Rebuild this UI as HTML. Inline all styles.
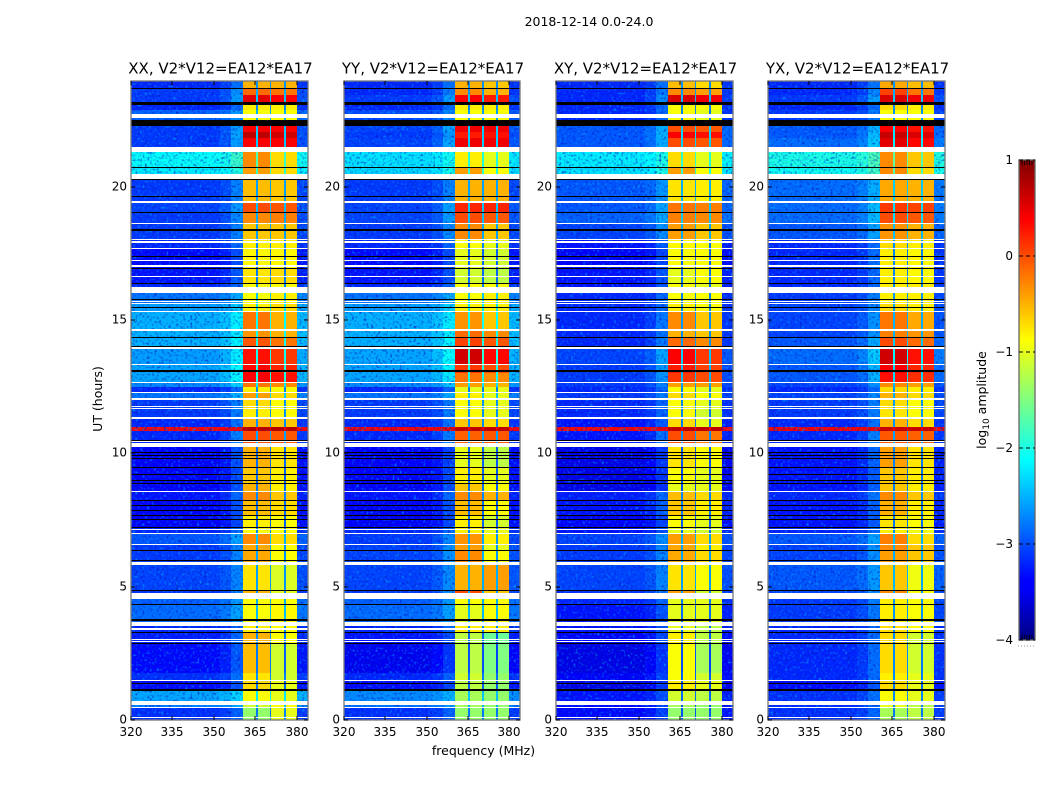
<!DOCTYPE html>
<html>
<head>
<meta charset="utf-8">
<title>2018-12-14 0.0-24.0</title>
<style>
html,body{margin:0;padding:0;background:#fff;}
svg{display:block;font-family:"DejaVu Sans","Liberation Sans",sans-serif;}
</style>
</head>
<body>
<svg id="chart" xmlns="http://www.w3.org/2000/svg" width="1050" height="800" viewBox="0 0 1050 800">
  <defs>
    <linearGradient id="jetGrad" x1="0" y1="1" x2="0" y2="0">
      <stop offset="0" stop-color="#000080"/>
      <stop offset="0.11" stop-color="#0000ff"/>
      <stop offset="0.125" stop-color="#0000ff"/>
      <stop offset="0.375" stop-color="#00ffff"/>
      <stop offset="0.5" stop-color="#80ff80"/>
      <stop offset="0.625" stop-color="#ffff00"/>
      <stop offset="0.875" stop-color="#ff0000"/>
      <stop offset="1" stop-color="#800000"/>
    </linearGradient>
    <filter id="speckleDark" x="0" y="0" width="100%" height="100%" color-interpolation-filters="sRGB">
      <feTurbulence type="fractalNoise" baseFrequency="0.42" numOctaves="1" seed="7"/>
      <feColorMatrix type="matrix" values="0 0 0 0 0  0 0 0 0 0.1  0 0 0 0 0.75  2.4 2.4 0 0 -2.4"/>
    </filter>
    <filter id="speckleLight" x="0" y="0" width="100%" height="100%" color-interpolation-filters="sRGB">
      <feTurbulence type="fractalNoise" baseFrequency="0.42" numOctaves="1" seed="21"/>
      <feColorMatrix type="matrix" values="0 0 0 0 0  0 0 0 0 0.65  0 0 0 0 1  2.2 2.2 0 0 -2.3"/>
    </filter>
  </defs>
  <text x="589" y="26" font-size="12.5" text-anchor="middle">2018-12-14 0.0-24.0</text>
  <g id="panels"></g>
  <text font-size="12.5" text-anchor="middle" transform="translate(102,399) rotate(-90)">UT (hours)</text>
  <text x="483.5" y="755" font-size="12.5" text-anchor="middle">frequency (MHz)</text>
  <g id="colorbar">
    <rect x="1019" y="160" width="16" height="480" fill="url(#jetGrad)"/>
    <g stroke="#000" stroke-width="0.8">
      <line x1="1022" x2="1022" y1="160" y2="165"/><line x1="1024.5" x2="1024.5" y1="160" y2="165"/><line x1="1027" x2="1027" y1="160" y2="165"/><line x1="1029.5" x2="1029.5" y1="160" y2="165"/><line x1="1032" x2="1032" y1="160" y2="165"/>
      <line x1="1022" x2="1022" y1="635" y2="640"/><line x1="1024.5" x2="1024.5" y1="635" y2="640"/><line x1="1027" x2="1027" y1="635" y2="640"/><line x1="1029.5" x2="1029.5" y1="635" y2="640"/><line x1="1032" x2="1032" y1="635" y2="640"/>
    </g>
    <rect x="1019" y="160" width="16" height="480" fill="none" stroke="#666" stroke-width="1.3"/>
    <text font-size="12.5" text-anchor="middle" transform="translate(986,400) rotate(-90)">log<tspan font-size="9" dy="3">10</tspan><tspan dy="-3"> amplitude</tspan></text>
    <line x1="1018" y1="646" x2="1035" y2="646" stroke="#999" stroke-width="1" stroke-dasharray="1 2"/>
  </g>
</svg>
<script>
// Axis ticks
const xTickValues = [320, 335, 350, 365, 380];
const yTickValues = [0, 5, 10, 15, 20];
const colorbarTicks = [1, 0, -1, -2, -3, -4];
const panelTitles = ["XX, V2*V12=EA12*EA17", "YY, V2*V12=EA12*EA17", "XY, V2*V12=EA12*EA17", "YX, V2*V12=EA12*EA17"];

// Frequency channels (MHz) and how far each sits between background (0) and band level (1)
const freqEdges = [320, 352, 356, 360.5, 365.1, 365.8, 370.15, 370.8, 375.2, 375.9, 380, 384];
const freqMix = [0, 0.04, 0.14, 1, 0.2, 1, 0.2, 1, 0.2, 1, 0.03];
const freqBand = ["lo", "lo", "lo", "lo", "lo", "lo", "lo", "hi", "hi", "hi", "hi"];

// Time row edges (UT hours)
const utEdges = [0,0.45,0.71,1.09,1.5,1.76,2.85,3.27,3.68,4.32,4.54,4.88,5.82,6.35,6.57,6.98,7.25,7.7,8.26,8.6,8.9,9.5,10.25,10.85,11,11.3,11.72,12.02,12.32,12.5,12.65,13.03,13.33,13.93,14.34,14.61,15.32,15.66,16,16.41,16.94,17.72,18.02,18.59,19.04,19.41,20.24,20.69,21.29,21.48,21.85,22.04,22.27,22.87,23.09,23.43,23.69,24];

// log10 amplitude per time row: off-band background, first two sub-bands, last two sub-bands
const bgXX = [-3.15,-2.75,-2.55,-3.35,-3.15,-3.35,-3.25,-3.2,-2.85,-2.9,-3.15,-3.05,-3.1,-3.1,-2.95,-3.2,-3.4,-3.4,-3.3,-3.4,-3.4,-3.4,-3.2,0.35,-3.2,-3.1,-3.1,-2.8,-3.2,-2.7,-2.55,-2.55,-2.6,-2.5,-2.5,-2.5,-2.6,-2.8,-3.2,-3.3,-3.35,-3.2,-3.1,-3.1,-3.05,-3.1,-2.2,-2.1,-3.1,-3.1,-3.1,-3.1,-2.9,-3.2,-3.1,-3.1,-3.2];
const loXX = [-1.4,-1.1,-0.9,-0.7,-0.75,-0.55,-0.5,-0.8,-0.9,-0.9,-0.5,-0.75,-0.45,-0.45,-0.3,-0.9,-0.8,-0.55,-0.3,-0.5,-0.6,-0.5,0,0.75,-0.5,-0.8,-0.7,-0.4,-0.8,-0.2,0.4,0.35,0.3,-0.05,-0.35,-0.2,-0.8,-0.9,-0.9,-0.75,-0.85,-0.8,-0.6,-0.3,0,-0.55,-0.4,-0.3,0.1,0.4,0.7,0.4,-0.9,-0.8,0.5,-0.15,-0.5];
const hiXX = [-1,-0.9,-1,-1,-1.1,-1.1,-0.9,-0.9,-0.85,-0.9,-1,-1.05,-0.9,-0.9,-0.7,-0.9,-0.9,-0.7,-0.6,-0.8,-0.8,-0.75,-0.05,0.75,-0.6,-0.9,-0.9,-0.7,-0.9,-0.3,0.3,0.2,0.1,-0.2,-0.5,-0.5,-0.7,-0.8,-0.9,-0.7,-0.85,-0.8,-0.6,-0.25,-0.05,-0.6,-0.7,-0.7,0.1,0.4,0.6,0.4,-0.9,-0.8,0.4,-0.2,-0.5];
const bgYY = [-3.15,-2.8,-2.7,-3.35,-3.2,-3.45,-3.3,-3.2,-2.85,-2.9,-3.1,-3.05,-3.05,-3.05,-3.1,-3.2,-3.4,-3.4,-3.3,-3.4,-3.4,-3.4,-3.2,0.4,-3.2,-3.1,-3.1,-2.8,-3.2,-2.7,-2.55,-2.55,-2.55,-2.5,-2.5,-2.5,-2.6,-2.8,-3.2,-3.3,-3.35,-3.2,-3.1,-3.05,-3.05,-3.1,-2.3,-2.25,-3.1,-3.05,-3.1,-3.05,-3,-3.2,-3.1,-3.2,-3.2];
const loYY = [-1.4,-1.3,-1.3,-1.2,-1.1,-1.2,-1.2,-0.8,-1,-0.9,0,-0.5,-0.3,-0.4,-0.35,-0.8,-0.8,-0.55,-0.3,-0.6,-0.8,-1,-0.1,0.7,-0.6,-0.9,-0.9,-0.8,-1,-0.4,-0.2,0.1,0.6,0.05,-0.15,-0.35,-0.8,-0.9,-0.9,-1.1,-1,-0.9,-0.3,0,0.2,-0.5,-0.4,-0.8,0.2,0.45,0.25,0.45,-0.9,-0.8,0.4,-0.3,-0.5];
const hiYY = [-1.4,-1.4,-1.4,-1.4,-1.4,-1.5,-1.6,-0.8,-0.9,-0.9,-0.6,-0.4,-0.9,-1,-0.8,-1,-1.1,-0.9,-0.5,-0.9,-1,-1.2,-0.05,0.7,-0.7,-1,-1,-1,-1,-0.5,-0.3,0,0.35,-0.05,-0.3,-0.6,-0.8,-0.8,-0.9,-1.2,-1.1,-1,-0.6,-0.05,0.2,-0.5,-0.9,-1,0.2,0.45,0.3,0.45,-0.9,-0.8,0.25,-0.5,-0.6];
const bgXY = [-3.35,-3.35,-3.3,-3.5,-3.4,-3.5,-3.4,-3.3,-3.3,-3.2,-3.15,-3.05,-3.1,-3.1,-3.05,-3.3,-3.4,-3.3,-3.25,-3.5,-3.5,-3.5,-3.3,0.35,-3.3,-3.2,-3.2,-3.1,-3.2,-3.1,-3.1,-3.1,-3.05,-3.2,-3.2,-3.2,-3.2,-3.2,-3.3,-3.3,-3.4,-3.3,-3.05,-2.9,-2.95,-2.95,-2.25,-2.2,-2.95,-2.95,-2.95,-2.95,-3.2,-3.2,-3.2,-3.2,-3.2];
const loXY = [-1.4,-1.3,-1.1,-0.8,-0.9,-0.9,-0.8,-1,-1,-1,-0.4,-0.75,-0.45,-0.45,-0.4,-1,-0.9,-0.6,-0.55,-1,-0.9,-0.75,0,0.7,-0.7,-0.9,-0.9,-0.7,-0.9,-0.4,0.1,0.25,0.4,-0.15,-0.5,-0.3,-0.8,-0.9,-0.9,-1,-0.9,-0.85,-0.4,-0.25,-0.2,-0.75,-0.4,-0.7,-0.1,0,0.4,0,-0.9,-0.9,0.55,-0.3,-0.55];
const hiXY = [-1.4,-1.4,-1.2,-1,-1.1,-1.3,-1.2,-1.2,-1,-1,-1.1,-0.9,-0.7,-0.8,-0.7,-1.1,-1,-0.8,-0.7,-1,-1,-0.9,-0.2,0.7,-1,-1.1,-1,-0.9,-1,-0.4,0,0.05,0.1,-0.3,-0.6,-0.6,-0.9,-0.9,-1,-0.9,-0.9,-0.9,-0.6,-0.3,-0.25,-0.8,-0.9,-1,-0.15,-0.05,0.3,-0.05,-1,-0.9,0.45,-0.4,-0.7];
const bgYX = [-3.15,-3.15,-3.15,-3.35,-3.2,-3.2,-3.2,-3.2,-3.1,-3.1,-3.05,-2.95,-3.05,-3.05,-2.95,-3.2,-3.3,-3.3,-3.2,-3.3,-3.3,-3.3,-3.2,0.4,-3.2,-3.1,-3.1,-3.05,-3.2,-3.05,-2.95,-2.95,-2.85,-2.95,-3.05,-3.05,-3.05,-3.1,-3.2,-3.2,-3.2,-3.2,-2.95,-2.85,-2.85,-2.85,-2.05,-2,-2.95,-2.85,-2.95,-2.95,-3.1,-3.2,-3.1,-3.2,-3.2];
const loYX = [-1.3,-1,-0.9,-0.7,-0.8,-0.7,-0.7,-0.7,-0.8,-0.8,-0.3,-0.6,-0.4,-0.3,-0.25,-0.8,-0.75,-0.5,-0.3,-0.6,-0.6,-0.4,-0.05,0.65,-0.5,-0.75,-0.7,-0.5,-0.7,-0.3,0.3,0.4,0.6,0,-0.25,-0.2,-0.7,-0.8,-0.8,-0.8,-0.8,-0.7,-0.35,0,0.1,-0.45,-0.3,-0.3,0.05,0.5,0.65,0.4,-0.9,-0.7,0.55,0.05,-0.45];
const hiYX = [-1.2,-1.2,-1,-1,-1,-1.1,-1.1,-0.9,-0.9,-0.9,-0.9,-0.95,-0.6,-0.6,-0.7,-0.95,-0.9,-0.8,-0.6,-0.8,-0.8,-0.75,-0.1,0.65,-0.7,-0.9,-0.9,-0.7,-0.8,-0.4,0.15,0.2,0.3,-0.15,-0.35,-0.45,-0.8,-0.8,-0.8,-0.85,-0.85,-0.8,-0.5,-0.05,0.05,-0.5,-0.7,-0.6,0.05,0.35,0.55,0.3,-0.9,-0.8,0.45,-0.2,-0.55];
const panelSeries = [[bgXX, loXX, hiXX], [bgYY, loYY, hiYY], [bgXY, loXY, hiXY], [bgYX, loYX, hiYX]];

// Flagged time intervals (UT hours): blank rows, and rows of near-zero amplitude
const blankStart = [0.08,0.45,0.56,1.46,2.93,3,3.38,3.53,4.54,5.82,6.57,6.98,7.13,8.56,10.25,10.44,11.3,11.68,11.75,12.02,12.28,12.65,13.33,13.93,14.61,15.32,15.62,15.7,16,16.6,17.01,17.2,17.69,17.91,18.02,18.59,19.41,20.28,21.29,22.57];
const blankEnd = [0.11,0.49,0.71,1.5,2.97,3.04,3.45,3.68,4.77,5.93,6.61,7.02,7.17,8.6,10.4,10.48,11.38,11.72,11.79,12.09,12.32,12.69,13.37,14.01,14.65,15.36,15.66,15.73,16.26,16.64,17.05,17.24,17.72,17.95,18.06,18.63,19.45,20.47,21.48,22.72];
const darkStart = [1.09,1.35,2.85,3.27,3.72,4.32,4.84,5.97,6.35,7.21,7.51,7.66,7.85,8.04,8.22,8.86,8.97,9.2,9.46,9.8,9.91,10.03,10.48,13.07,14.01,14.34,15.47,15.77,16.37,16.94,17.35,18.36,19,19.6,20.24,20.47,20.69,22.27,23.08,23.68];
const darkEnd = [1.16,1.39,2.89,3.3,3.79,4.36,4.88,6.01,6.38,7.25,7.55,7.7,7.89,8.07,8.26,8.9,9.01,9.24,9.5,9.84,9.95,10.06,10.51,13.14,14.04,14.38,15.51,15.81,16.41,16.97,17.39,18.4,19.04,19.64,20.28,20.5,20.73,22.51,23.17,23.71];

const SVGNS = "http://www.w3.org/2000/svg";
const panelLefts = [131, 344, 556, 768];
const panelRights = [308, 520, 733, 945];
const plotTop = 81, plotBottom = 720;
const utMax = 23.97, freqMin = 320, freqMax = 384;
const cbTop = 160, cbBottom = 640, cbLeft = 1019, cbRight = 1035, cbMin = -4, cbMax = 1;

function yScale(ut) { return Math.max(plotTop, Math.round(plotBottom - (ut / utMax) * (plotBottom - plotTop))); }
function xScale(f, i) { return Math.round(panelLefts[i] + (f - freqMin) / (freqMax - freqMin) * (panelRights[i] - panelLefts[i])); }
function cbScale(v) { return cbBottom - (v - cbMin) / (cbMax - cbMin) * (cbBottom - cbTop); }

function jet(v) {
  const t = Math.max(0, Math.min(1, (v - cbMin) / (cbMax - cbMin)));
  const c = function (x) { return Math.round(255 * Math.max(0, Math.min(1, x))); };
  const r = 1.5 - Math.abs(4 * t - 3);
  const g = 1.5 - Math.abs(4 * t - 2);
  const b = 1.5 - Math.abs(4 * t - 1);
  return "rgb(" + c(r) + "," + c(g) + "," + c(b) + ")";
}
function make(tag, attrs, parent) {
  const el = document.createElementNS(SVGNS, tag);
  for (const k in attrs) el.setAttribute(k, attrs[k]);
  parent.appendChild(el);
  return el;
}

const panelsRoot = document.getElementById("panels");
panelTitles.forEach(function (title, i) {
  const series = panelSeries[i];
  const g = make("g", {}, panelsRoot);
  
  

  const heat = make("g", { "shape-rendering": "crispEdges" }, g);
  
  
  for (let r = 0; r < utEdges.length - 1; r++) {
    const y0 = yScale(utEdges[r + 1]), y1 = yScale(utEdges[r]);
    for (let c = 0; c < freqMix.length; c++) {
      const x0 = xScale(freqEdges[c], i), x1 = xScale(freqEdges[c + 1], i);
      const bg = series[0][r];
      const band = freqBand[c] === "lo" ? series[1][r] : series[2][r];
      const val = bg + (band - bg) * freqMix[c];
      const cell = make("rect", { x: x0, y: y0, width: x1 - x0, height: y1 - y0, fill: jet(val) }, heat);
      
      
    }
  }

  ["speckleDark", "speckleLight"].forEach(function (fid) {
    const leftNoise = make("rect", {
      x: panelLefts[i], y: plotTop,
      width: xScale(360.5, i) - panelLefts[i], height: plotBottom - plotTop,
      filter: "url(#" + fid + ")", opacity: "0.7"
    }, g);
    
    
    const rightNoise = make("rect", {
      x: xScale(380, i), y: plotTop,
      width: panelRights[i] - xScale(380, i), height: plotBottom - plotTop,
      filter: "url(#" + fid + ")", opacity: "0.7"
    }, g);
    
    
  });

  const flags = make("g", { "shape-rendering": "crispEdges" }, g);
  
  
  const w = panelRights[i] - panelLefts[i];
  darkStart.forEach(function (s, k) {
    const top = yScale(darkEnd[k]);
    const row = make("rect", { x: panelLefts[i], y: top, width: w, height: Math.max(1, yScale(s) - top), fill: "#000" }, flags);
    
    
  });
  blankStart.forEach(function (s, k) {
    const top = yScale(blankEnd[k]);
    const row = make("rect", { x: panelLefts[i], y: top, width: w, height: Math.max(1, yScale(s) - top), fill: "#fff" }, flags);
    
    
  });

  const frame = make("rect", { x: panelLefts[i], y: plotTop, width: w, height: plotBottom - plotTop, fill: "none", stroke: "#777", "stroke-width": "1.3" }, g);
  
  

  const ttl = make("text", { x: (panelLefts[i] + panelRights[i]) / 2 + 1, y: 73.5, "font-size": "15", "text-anchor": "middle" }, g);
  
  
  ttl.textContent = title;

  xTickValues.forEach(function (v) {
    const x = xScale(v, i);
    const t1 = make("line", { x1: x, x2: x, y1: plotBottom, y2: plotBottom - 4, stroke: "#000", "stroke-width": "1" }, g);
    
    
    const t2 = make("line", { x1: x, x2: x, y1: plotTop, y2: plotTop + 4, stroke: "#000", "stroke-width": "1" }, g);
    
    
    const lab = make("text", { x: x, y: 736, "font-size": "12", "text-anchor": "middle" }, g);
    
    
    lab.textContent = v;
  });
  yTickValues.forEach(function (v) {
    const y = yScale(v);
    const t1 = make("line", { x1: panelLefts[i], x2: panelLefts[i] + 4, y1: y, y2: y, stroke: "#000", "stroke-width": "1" }, g);
    
    
    const t2 = make("line", { x1: panelRights[i], x2: panelRights[i] - 4, y1: y, y2: y, stroke: "#000", "stroke-width": "1" }, g);
    
    
    const lab = make("text", { x: panelLefts[i] - 4, y: y + 3.5, "font-size": "12", "text-anchor": "end" }, g);
    
    
    lab.textContent = v;
  });
});

const cb = document.getElementById("colorbar");
colorbarTicks.forEach(function (v) {
  const y = cbScale(v);
  const tick = make("line", { x1: cbLeft, x2: cbRight, y1: y, y2: y, stroke: "#000", "stroke-width": "1", "stroke-dasharray": "4 3" }, cb);
  
  
  const lab = make("text", { x: 1013, y: y + 4, "font-size": "12", "text-anchor": "end" }, cb);
  
  
  lab.textContent = v < 0 ? "\u2212" + Math.abs(v) : String(v);
});
</script>
</body>
</html>
